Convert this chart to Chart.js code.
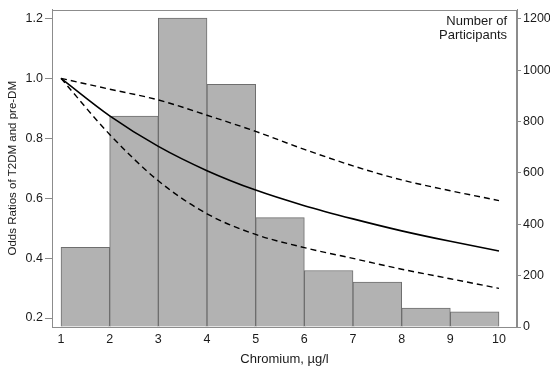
<!DOCTYPE html>
<html>
<head>
<meta charset="utf-8">
<script src="https://cdn.jsdelivr.net/npm/chart.js@4"></script>
<style>
  body { margin: 0; background: #fff; }
  #wrap { width: 550px; height: 366px; }
</style>
</head>
<body>
<div id="wrap"><canvas id="chart"></canvas></div>
<script>
// histogram of participants, one bin per µg/l
var binMids = [1.5, 2.5, 3.5, 4.5, 5.5, 6.5, 7.5, 8.5, 9.5];
var participants = [310, 821, 1203, 945, 426, 220, 175, 74, 59];

// odds ratio curve and its confidence band, read at each integer
var chromium = [1, 2, 3, 4, 5, 6, 7, 8, 9, 10];
var oddsRatio = [1.0, 0.875, 0.773, 0.692, 0.627, 0.575, 0.531, 0.491, 0.456, 0.424];
var upperCI = [1.0, 0.964, 0.928, 0.877, 0.823, 0.763, 0.708, 0.661, 0.625, 0.592];
var lowerCI = [1.0, 0.813, 0.658, 0.548, 0.479, 0.435, 0.399, 0.363, 0.331, 0.299];

// tick labels
var orTicks = [0.2, 0.4, 0.6, 0.8, 1.0, 1.2];
var countTicks = [0, 200, 400, 600, 800, 1000, 1200];
var xTicks = [1, 2, 3, 4, 5, 6, 7, 8, 9, 10];

var axisGrey = '#8c8c8c';
var textCol = '#1a1a1a';
var font = 'Liberation Sans, Arial, sans-serif';

function pts(xs, ys){
  return xs.map(function(x, i){ return {x: x, y: ys[i]}; });
}
function fixTicks(list){
  return function(scale){ scale.ticks = list.map(function(v){ return {value: v}; }); };
}
function fixSize(prop, size){
  return function(scale){ scale[prop] = size; };
}

// frame round the plot + the "Number of Participants" note
var frame = {
  id: 'frame',
  afterDatasetsDraw: function(chart){
    var ctx = chart.ctx, a = chart.chartArea;
    ctx.save();
    ctx.strokeStyle = axisGrey;
    ctx.lineWidth = 1;
    ctx.strokeRect(Math.round(a.left) + 0.5, Math.round(a.top) + 0.5,
                   Math.round(a.right - a.left) - 1, Math.round(a.bottom - a.top) - 1);
    ctx.fillStyle = textCol;
    ctx.font = '13px ' + font;
    ctx.textAlign = 'right';
    ctx.textBaseline = 'middle';
    ctx.fillText('Number of', a.right - 10, a.top + 12);
    ctx.fillText('Participants', a.right - 10, a.top + 26);
    ctx.restore();
  }
};

var lineBase = {
  type: 'line',
  yAxisID: 'or',
  borderColor: '#000',
  borderWidth: 1.6,
  pointRadius: 0,
  fill: false,
  cubicInterpolationMode: 'monotone',
  order: 0
};

var ctx = document.getElementById('chart');
var chart = new Chart(ctx, {
  data: {
    datasets: [
      Object.assign({}, lineBase, {label: 'Odds ratio', data: pts(chromium, oddsRatio)}),
      Object.assign({}, lineBase, {label: 'Upper 95% CI', data: pts(chromium, upperCI), borderDash: [6, 4], borderWidth: 1.4}),
      Object.assign({}, lineBase, {label: 'Lower 95% CI', data: pts(chromium, lowerCI), borderDash: [6, 4], borderWidth: 1.4}),
      {
        type: 'bar',
        label: 'Participants',
        yAxisID: 'count',
        data: pts(binMids, participants),
        backgroundColor: '#b2b2b2',
        borderColor: '#6e6e6e',
        borderWidth: 1,
        barPercentage: 1,
        categoryPercentage: 1,
        order: 1
      }
    ]
  },
  options: {
    responsive: true,
    maintainAspectRatio: false,
    animation: false,
    layout: {padding: {top: 7, left: 0, right: 0, bottom: 0}},
    plugins: {legend: {display: false}, tooltip: {enabled: false}},
    scales: {
      x: {
        type: 'linear',
        position: 'bottom',
        offset: false,
        min: 0.815,
        max: 10.37,
        afterBuildTicks: fixTicks(xTicks),
        afterFit: fixSize('height', 39),
        grid: {drawOnChartArea: false, drawTicks: false, offset: false, color: axisGrey},
        border: {color: axisGrey},
        ticks: {color: textCol, padding: 5, font: {family: font, size: 12.5}},
        title: {display: true, text: 'Chromium, µg/l', color: textCol,
                font: {family: font, size: 13, lineHeight: 1}, padding: 0}
      },
      or: {
        type: 'linear',
        position: 'left',
        min: 0.17,
        max: 1.23,
        afterBuildTicks: fixTicks(orTicks),
        afterFit: fixSize('width', 52),
        grid: {drawOnChartArea: false, color: axisGrey, tickLength: 7},
        border: {color: axisGrey},
        ticks: {color: textCol, padding: 2, font: {family: font, size: 12.5},
                callback: function(v){ return v.toFixed(1); }},
        title: {display: true, text: 'Odds Ratios of T2DM and pre-DM', color: textCol,
                font: {family: font, size: 11.5, lineHeight: 1.2}, padding: {top: 6, bottom: 0}}
      },
      count: {
        type: 'linear',
        position: 'right',
        min: 0,
        max: 1236,
        afterBuildTicks: fixTicks(countTicks),
        afterFit: fixSize('width', 33),
        grid: {drawOnChartArea: false, color: axisGrey, tickLength: 4},
        border: {color: axisGrey},
        ticks: {color: textCol, padding: 2, font: {family: font, size: 12.5},
                callback: function(v){ return String(v); }}
      }
    }
  },
  plugins: [frame]
});
</script>
</body>
</html>
